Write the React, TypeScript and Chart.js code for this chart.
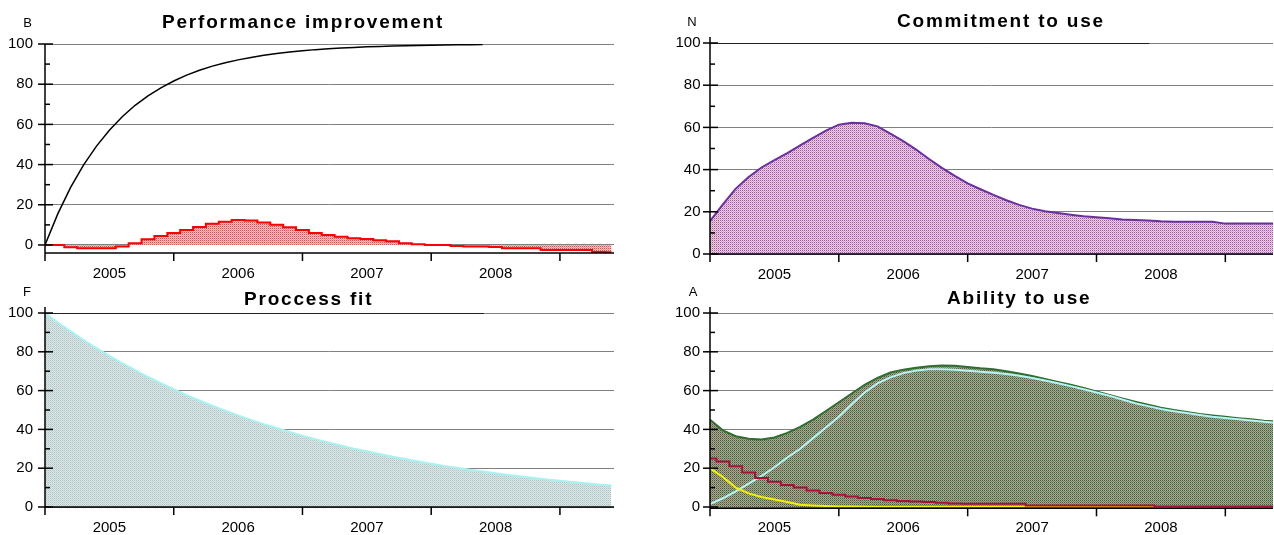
import React, { useEffect, useRef } from 'react';
import { Chart, registerables } from 'chart.js';

Chart.register(...registerables);

const FONT = '"Liberation Sans", Arial, Helvetica, sans-serif';

// time axis: years after the start of 2005
const TIME = [
  0, 0.1, 0.2, 0.3, 0.4, 0.5, 0.6, 0.7, 0.8, 0.9,
  1.0, 1.1, 1.2, 1.3, 1.4, 1.5, 1.6, 1.7, 1.8, 1.9,
  2.0, 2.1, 2.2, 2.3, 2.4, 2.5, 2.6, 2.7, 2.8, 2.9,
  3.0, 3.1, 3.2, 3.3, 3.4, 3.5, 3.6, 3.7, 3.8, 3.9,
  4.0, 4.1, 4.2, 4.3, 4.4,
];
const HOLD_TIME = [0, 3.41];
const YEAR_LABELS = ['2005', '2006', '2007', '2008'];
const YEAR_TICKS = [0, 1, 2, 3, 4];
const Y_MAJOR = [0, 20, 40, 60, 80, 100];
const Y_MINOR = [10, 30, 50, 70, 90];

// B — Performance improvement
const B_BLACK = [
  0, 15.6, 28.8, 39.9, 49.2, 57.1, 63.8, 69.5, 74.2, 78.2,
  81.6, 84.5, 86.9, 89.0, 90.7, 92.1, 93.3, 94.4, 95.3, 96.0,
  96.6, 97.2, 97.6, 98.0, 98.3, 98.6, 98.8, 99.0, 99.1, 99.3,
  99.4, 99.5, 99.6, 99.6, 99.7,
];
const B_RED = [
  0, 0, -1.1, -1.6, -1.6, -1.6, -0.8, 0.8, 2.8, 4.5,
  6, 7.5, 9, 10.5, 11.5, 12.4, 12.2, 11.2, 10, 8.8,
  7.5, 6, 5, 4.1, 3.3, 3, 2.3, 1.8, 0.8, 0.3,
  0, 0, -0.5, -0.8, -0.8, -1, -1.6, -1.6, -1.6, -2.5,
  -2.5, -2.5, -2.5, -3.5, -3.6,
];

// N — Commitment to use
const N_BLACK = [100, 100];
const N_PURPLE = [
  15.6, 23.5, 31, 36.5, 41, 44.5, 47.8, 51.5, 55, 58.5,
  61.3, 62.2, 62, 60.5, 57, 53.5, 49.5, 45, 40.8, 37,
  33.5, 30.7, 28, 25.5, 23.3, 21.5, 20.3, 19.4, 18.6, 17.9,
  17.4, 16.9, 16.4, 16.1, 15.9, 15.5, 15.3, 15.3, 15.3, 15.3,
  14.4, 14.4, 14.4, 14.4, 14.4,
];

// F — Proccess fit
const F_BLACK = [100, 100];
const F_LEVEL = [
  100, 95.1, 90.5, 86.1, 81.9, 77.9, 74.1, 70.5, 67.0, 63.8,
  60.7, 57.7, 54.9, 52.2, 49.7, 47.2, 44.9, 42.7, 40.7, 38.7,
  36.8, 35.0, 33.3, 31.7, 30.1, 28.7, 27.3, 25.9, 24.7, 23.5,
  22.3, 21.2, 20.2, 19.2, 18.3, 17.4, 16.5, 15.7, 15.0, 14.2,
  13.5, 12.9, 12.2, 11.6, 11.1,
];

// A — Ability to use
const A_GREEN = [
  45, 39.5, 36.5, 35.2, 34.8, 35.8, 38.2, 41.3, 45, 49.5,
  54, 58.5, 63, 66.5, 69.3, 70.8, 71.8, 72.5, 73, 72.8,
  72.2, 71.5, 71, 70, 68.8, 67.5, 66, 64.5, 63, 61.3,
  59.5, 57.8, 56, 54.3, 52.7, 51.2, 50, 49, 48, 47.2,
  46.5, 45.8, 45.2, 44.5, 44,
];
const A_CYAN = [
  1.5, 4.5, 8, 12, 16, 20.5, 25.5, 30, 35.5, 41,
  46.5, 53, 59, 63.7, 66.8, 69, 70.3, 71, 71, 70.7,
  70.2, 69.7, 69.2, 68.5, 67.6, 66.5, 65.2, 63.8, 62.3, 60.7,
  59, 57.3, 55.4, 53.5, 52, 50.5, 49.4, 48.4, 47.4, 46.5,
  45.9, 45.2, 44.6, 43.9, 43.4,
];
const A_CRIMSON = [
  25, 23.5, 21, 17.8, 15, 13, 11.3, 10, 8.5, 7.2,
  6.3, 5.4, 4.7, 4.1, 3.5, 3.1, 2.8, 2.6, 2.2, 1.8,
  1.7, 1.7, 1.7, 1.7, 1.7, 0.8, 0.8, 0.8, 0.8, 0.8,
  0.8, 0.8, 0.8, 0.8, 0.8, 0.2, 0.2, 0.2, 0.2, 0.2,
  0.2, 0.2, 0.2, 0.2, 0.2,
];
const A_YELLOW = [
  20, 15.5, 10, 7, 5.2, 3.9, 2.6, 1.2, 0.8, 0.5,
  0.3, 0.2, 0.1, 0, 0, 0, 0, 0, 0, 0,
  0, 0, 0, 0, 0, 0, 0, 0, 0, 0,
  0, 0, 0, 0, 0, 0, 0, 0, 0, 0,
  0, 0, 0, 0, 0,
];

// dither patterns for filled areas
const PINK_DOTS = [['#ec4a4a', '#f6c4c4'], ['#f6c4c4', '#ee9696']];
const PURPLE_DOTS = [['#9a5aa8', '#f0ccd8'], ['#f0ccd8', '#d4a4c4']];
const GREY_DOTS = [['#b4c4c4', '#d8e6e6'], ['#d8e6e6', '#c4d6d6']];
const OLIVE_DOTS = [['#3d5f3d', '#b0a48c'], ['#b0a48c', '#7c8068']];

type Series = {
  time: number[];
  values: number[];
  color: string;
  width: number;
  fill?: string[][];
  stepped?: false | 'middle' | 'before' | 'after';
};

type PanelSpec = {
  key: string;
  title: string;
  letter: string;
  box: [number, number, number, number];
  padding: { left: number; right: number; top: number; bottom: number };
  yAxisW: number;
  xAxisH: number;
  yMin: number;
  xMax: number;
  yPad: number;
  xPad: number;
  titleX: number;
  titleY: number;
  letterX: number;
  letterY: number;
  axisExt: number;
  axisShift: number;
  series: Series[];
};

const PANELS: PanelSpec[] = [
  {
    key: 'B', title: 'Performance improvement', letter: 'B',
    box: [0, 0, 650, 282], padding: { left: 0, right: 36, top: 44, bottom: 0 },
    yAxisW: 45, xAxisH: 29, yMin: -4, xMax: 4.42, yPad: 12, xPad: 12,
    titleX: 162, titleY: 28, letterX: 27.5, letterY: 27, axisExt: 0, axisShift: 0,
    series: [
      { time: TIME, values: B_BLACK, color: '#000000', width: 1.5 },
      { time: TIME, values: B_RED, color: '#ff0000', width: 2, fill: PINK_DOTS, stepped: 'middle' },
    ],
  },
  {
    key: 'N', title: 'Commitment to use', letter: 'N',
    box: [650, 0, 624, 282], padding: { left: 15, right: 1, top: 43, bottom: 0 },
    yAxisW: 45, xAxisH: 28, yMin: 0, xMax: 4.37, yPad: 9.5, xPad: 12,
    titleX: 247, titleY: 27, letterX: 42, letterY: 26, axisExt: 6, axisShift: 0,
    series: [
      { time: HOLD_TIME, values: N_BLACK, color: '#000000', width: 1.5 },
      { time: TIME, values: N_PURPLE, color: '#6a2fa0', width: 2, fill: PURPLE_DOTS },
    ],
  },
  {
    key: 'F', title: 'Proccess fit', letter: 'F',
    box: [0, 282, 650, 253], padding: { left: 0, right: 36, top: 31, bottom: 0 },
    yAxisW: 45, xAxisH: 28, yMin: 0, xMax: 4.42, yPad: 12, xPad: 12,
    titleX: 244, titleY: 23, letterX: 27, letterY: 14, axisExt: 6, axisShift: 0,
    series: [
      { time: HOLD_TIME, values: F_BLACK, color: '#000000', width: 1.5 },
      { time: TIME, values: F_LEVEL, color: '#a8f2f2', width: 2, fill: GREY_DOTS },
    ],
  },
  {
    key: 'A', title: 'Ability to use', letter: 'A',
    box: [650, 282, 624, 253], padding: { left: 15, right: 1, top: 31, bottom: 0 },
    yAxisW: 45, xAxisH: 28, yMin: 0, xMax: 4.37, yPad: 10, xPad: 12,
    titleX: 297, titleY: 22, letterX: 43, letterY: 14, axisExt: 6, axisShift: 1.3,
    series: [
      { time: TIME, values: A_CRIMSON, color: '#a8103c', width: 2, stepped: 'middle' },
      { time: TIME, values: A_YELLOW, color: '#f2f200', width: 2 },
      { time: TIME, values: A_CYAN, color: '#b4f4f4', width: 2 },
      { time: TIME, values: A_GREEN, color: '#2e6e2e', width: 2, fill: OLIVE_DOTS },
    ],
  },
];

function makePattern(cells: string[][]): CanvasPattern | string {
  const c = document.createElement('canvas');
  c.width = cells[0].length;
  c.height = cells.length;
  const g = c.getContext('2d');
  if (!g) return cells[0][0];
  cells.forEach((row, y) => row.forEach((col, x) => {
    g.fillStyle = col;
    g.fillRect(x, y, 1, 1);
  }));
  return g.createPattern(c, 'repeat') || cells[0][0];
}

function isMajor(v: number) {
  const r = Math.round(v);
  return Math.abs(v - r) < 1e-6 && r % 20 === 0;
}

function decorPlugin(p: PanelSpec) {
  return {
    id: 'panelDecor' + p.key,
    afterDatasetsDraw(chart: any) {
      const { ctx, chartArea: a, scales } = chart;
      const x = scales.x;
      const y = scales.y;
      const line = (x1: number, y1: number, x2: number, y2: number) => {
        ctx.beginPath();
        ctx.moveTo(x1, y1);
        ctx.lineTo(x2, y2);
        ctx.stroke();
      };
      const base = a.bottom + p.axisShift;
      ctx.save();
      ctx.strokeStyle = '#000000';
      ctx.lineWidth = 1.5;
      line(a.left, a.top - p.axisExt, a.left, base);
      line(a.left, base, a.right, base);
      Y_MAJOR.forEach((v) => {
        const py = y.getPixelForValue(v);
        line(a.left - 7, py, a.left + 8, py);
      });
      Y_MINOR.forEach((v) => {
        const py = y.getPixelForValue(v);
        line(a.left, py, a.left + 5, py);
      });
      YEAR_TICKS.forEach((v) => {
        const px = x.getPixelForValue(v);
        line(px, base, px, base + 8);
      });
      ctx.fillStyle = '#000000';
      ctx.textBaseline = 'alphabetic';
      ctx.font = 'bold 19px ' + FONT;
      ctx.textAlign = 'left';
      (ctx as any).letterSpacing = '1.8px';
      ctx.fillText(p.title, p.titleX, p.titleY);
      (ctx as any).letterSpacing = '0px';
      ctx.font = '13px ' + FONT;
      ctx.textAlign = 'center';
      ctx.fillText(p.letter, p.letterX, p.letterY);
      ctx.restore();
    },
  };
}

function buildConfig(p: PanelSpec) {
  const datasets = p.series.map((s) => ({
    data: s.values.map((v, i) => ({ x: s.time[i], y: v })),
    borderColor: s.color,
    borderWidth: s.width,
    backgroundColor: s.fill ? makePattern(s.fill) : 'rgba(0,0,0,0)',
    fill: s.fill ? 'origin' : false,
    pointRadius: 0,
    pointHoverRadius: 0,
    tension: 0,
    stepped: s.stepped || false,
  }));
  return {
    type: 'line',
    data: { datasets },
    options: {
      responsive: false,
      animation: false,
      events: [],
      layout: { padding: p.padding },
      plugins: {
        legend: { display: false },
        tooltip: { enabled: false },
        title: { display: false },
      },
      scales: {
        x: {
          type: 'linear',
          min: 0,
          max: p.xMax,
          border: { display: false },
          grid: { display: false, drawTicks: false },
          ticks: {
            stepSize: 0.5,
            includeBounds: false,
            autoSkip: false,
            maxRotation: 0,
            minRotation: 0,
            padding: p.xPad,
            color: '#000000',
            font: { family: FONT, size: 15 },
            callback: (value: any) => {
              const v = Number(value);
              const k = Math.floor(v + 1e-9);
              return Math.abs(v - k - 0.5) < 1e-6 ? (YEAR_LABELS[k] ?? '') : '';
            },
          },
          afterFit: (s: any) => { s.height = p.xAxisH; },
        },
        y: {
          type: 'linear',
          min: p.yMin,
          max: 100,
          border: { display: false },
          grid: {
            drawTicks: false,
            lineWidth: 1,
            color: (c: any) => (c.tick && isMajor(c.tick.value) ? '#808080' : 'rgba(0,0,0,0)'),
          },
          ticks: {
            stepSize: 20,
            includeBounds: false,
            padding: p.yPad,
            color: '#000000',
            font: { family: FONT, size: 15 },
            callback: (value: any) => (isMajor(Number(value)) ? String(Math.round(Number(value))) : ''),
          },
          afterFit: (s: any) => { s.width = p.yAxisW; },
        },
      },
    },
    plugins: [decorPlugin(p)],
  };
}

function Panel({ spec }: { spec: PanelSpec }) {
  const ref = useRef<HTMLCanvasElement | null>(null);
  useEffect(() => {
    if (!ref.current) return undefined;
    const chart = new Chart(ref.current, buildConfig(spec) as any);
    return () => chart.destroy();
  }, [spec]);
  const [l, t, w, h] = spec.box;
  return (
    <canvas
      ref={ref}
      width={w}
      height={h}
      style={{ position: 'absolute', left: l, top: t, width: w, height: h, display: 'block' }}
    />
  );
}

export default function App() {
  return (
    <div
      style={{
        position: 'fixed', left: 0, top: 0, width: 1274, height: 535,
        background: '#ffffff', overflow: 'hidden',
      }}
    >
      {PANELS.map((p) => <Panel key={p.key} spec={p} />)}
    </div>
  );
}
